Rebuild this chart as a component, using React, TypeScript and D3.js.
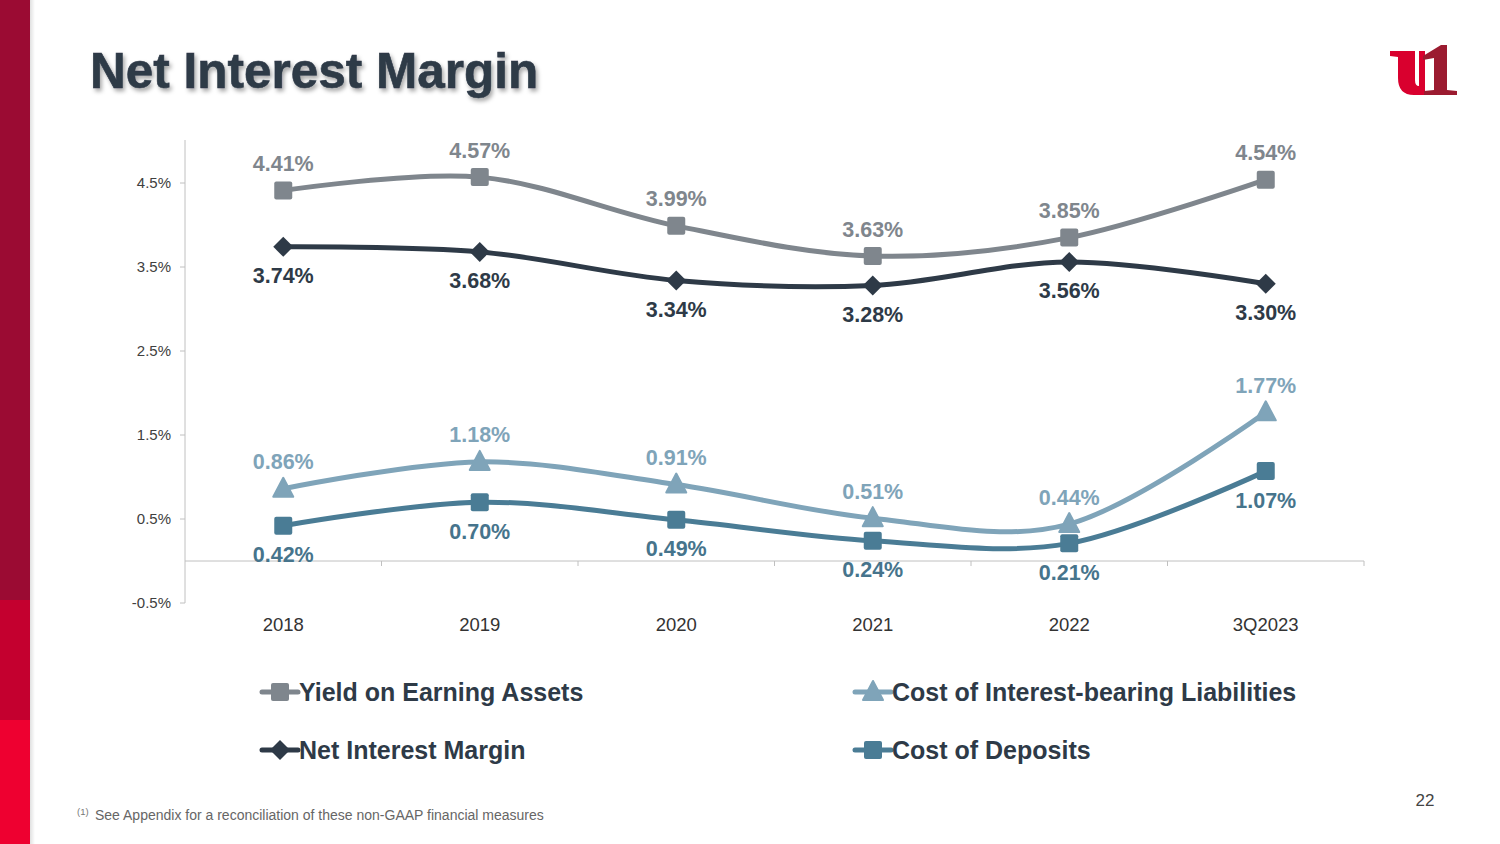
import React from "react";
import * as d3 from "d3";

const categories = ["2018", "2019", "2020", "2021", "2022", "3Q2023"];
const yieldOnAssets = [4.41, 4.57, 3.99, 3.63, 3.85, 4.54];
const netInterestMargin = [3.74, 3.68, 3.34, 3.28, 3.56, 3.3];
const costOfLiabilities = [0.86, 1.18, 0.91, 0.51, 0.44, 1.77];
const costOfDeposits = [0.42, 0.7, 0.49, 0.24, 0.21, 1.07];
const yTicks = [-0.5, 0.5, 1.5, 2.5, 3.5, 4.5];

const W = 1500;
const H = 844;
const FONT = "'Liberation Sans', Arial, sans-serif";
const DARK = "#2e3a47";

type Marker = "square" | "diamond" | "triangle";

const series = [
  { name: "Yield on Earning Assets", values: yieldOnAssets, color: "#7f868d", labelColor: "#7f868d", marker: "square" as Marker, above: true },
  { name: "Net Interest Margin", values: netInterestMargin, color: "#2e3a47", labelColor: "#2e3a47", marker: "diamond" as Marker, above: false },
  { name: "Cost of Interest-bearing Liabilities", values: costOfLiabilities, color: "#7fa4b9", labelColor: "#7fa4b9", marker: "triangle" as Marker, above: true },
  { name: "Cost of Deposits", values: costOfDeposits, color: "#4a7c95", labelColor: "#46748c", marker: "square" as Marker, above: false },
];

// legend order as laid out in the slide
const legendOrder = [
  { idx: 0, col: 0, row: 0 },
  { idx: 2, col: 1, row: 0 },
  { idx: 1, col: 0, row: 1 },
  { idx: 3, col: 1, row: 1 },
];

function markerShape(kind: Marker, cx: number, cy: number, color: string, key: string) {
  if (kind === "square") {
    return <rect key={key} x={cx - 9} y={cy - 9} width={18} height={18} rx={2} fill={color} />;
  }
  if (kind === "diamond") {
    const r = 10;
    return <path key={key} d={`M${cx},${cy - r}L${cx + r},${cy}L${cx},${cy + r}L${cx - r},${cy}Z`} fill={color} />;
  }
  const s = 10;
  return (
    <path
      key={key}
      d={`M${cx},${cy - s - 1}L${cx + s},${cy + s - 2}L${cx - s},${cy + s - 2}Z`}
      fill={color}
      stroke={color}
      strokeWidth={2}
      strokeLinejoin="round"
    />
  );
}

export default function App() {
  const x = d3.scaleBand<string>().domain(categories).range([185, 1364]);
  const y = d3.scaleLinear().domain([-0.5, 4.5]).range([603, 183]);
  const cx = (c: string) => (x(c) ?? 0) + x.bandwidth() / 2;

  const line = d3
    .line<number>()
    .x((_, i) => cx(categories[i]))
    .y((d) => y(d))
    .curve(d3.curveCatmullRom.alpha(0));

  const boundaries = categories.map((c) => (x(c) ?? 0) + x.bandwidth());

  return (
    <svg width={W} height={H} style={{ position: "absolute", left: 0, top: 0, background: "#fff" }} fontFamily={FONT}>
      <defs>
        <filter id="shadow" x="-10%" y="-30%" width="120%" height="160%">
          <feDropShadow dx="2" dy="3" stdDeviation="2" floodColor="#000" floodOpacity="0.35" />
        </filter>
        <linearGradient id="stripeShade" x1="0" x2="1" y1="0" y2="0">
          <stop offset="0" stopColor="#000" stopOpacity="0.12" />
          <stop offset="1" stopColor="#000" stopOpacity="0" />
        </linearGradient>
      </defs>

      {/* left stripe */}
      <rect x={0} y={0} width={30} height={600} fill="#9b0b33" />
      <rect x={0} y={600} width={30} height={120} fill="#c4002f" />
      <rect x={0} y={720} width={30} height={124} fill="#ee0030" />
      <rect x={30} y={0} width={5} height={H} fill="url(#stripeShade)" />

      {/* title */}
      <text x={90} y={88} fontSize={49.5} fontWeight="bold" fill={DARK} filter="url(#shadow)" stroke={DARK} strokeWidth={0.6}>
        Net Interest Margin
      </text>

      {/* logo */}
      <g>
        <path
          d="M1390,51 L1415,51 L1415,80 Q1415,86 1419,86 L1419,51 L1425,51 L1425,95 L1414,95 Q1398,95 1398,78 L1398,57 L1390,56 Z"
          fill="#d9002e"
        />
        <path
          d="M1423,56 L1441,45 L1447,45 L1447,90 L1457,91 L1457,95 L1424,95 L1424,91 L1434,90 L1434,58 L1423,60 Z"
          fill="#9b1b30"
        />
      </g>

      {/* axes */}
      <line x1={185} x2={185} y1={140} y2={603} stroke="#c0c0c0" strokeWidth={1} />
      {yTicks.map((t) => (
        <g key={t}>
          <line x1={180} x2={185} y1={y(t)} y2={y(t)} stroke="#c0c0c0" />
          <text x={171} y={y(t)} dy="0.35em" textAnchor="end" fontSize={15} fill="#404040">
            {`${t}%`}
          </text>
        </g>
      ))}
      <line x1={185} x2={1364} y1={y(0)} y2={y(0)} stroke="#c0c0c0" />
      {boundaries.map((b) => (
        <line key={b} x1={b} x2={b} y1={y(0)} y2={y(0) + 5} stroke="#c0c0c0" />
      ))}
      {categories.map((c) => (
        <text key={c} x={cx(c)} y={631} textAnchor="middle" fontSize={18.5} fill="#333">
          {c}
        </text>
      ))}

      {/* series */}
      {series.map((s) => (
        <g key={s.name}>
          <path d={line(s.values) ?? ""} fill="none" stroke={s.color} strokeWidth={5} strokeLinecap="round" />
          {s.values.map((v, i) => markerShape(s.marker, cx(categories[i]), y(v), s.color, `${s.name}-${i}`))}
          {s.values.map((v, i) => (
            <text
              key={`l-${i}`}
              x={cx(categories[i])}
              y={y(v) + (s.above ? -27 : 29)}
              dy="0.35em"
              textAnchor="middle"
              fontSize={21.5}
              fontWeight="bold"
              fill={s.labelColor}
            >
              {`${v.toFixed(2)}%`}
            </text>
          ))}
        </g>
      ))}

      {/* legend */}
      {legendOrder.map(({ idx, col, row }) => {
        const s = series[idx];
        const lx = col === 0 ? 262 : 855;
        const ly = row === 0 ? 692 : 750;
        return (
          <g key={s.name}>
            <line x1={lx} x2={lx + 36} y1={ly} y2={ly} stroke={s.color} strokeWidth={5} strokeLinecap="round" />
            {markerShape(s.marker, lx + 18, ly, s.color, `lg-${idx}`)}
            <text x={lx + 37} y={ly} dy="0.35em" fontSize={25} fontWeight="bold" fill={DARK}>
              {s.name}
            </text>
          </g>
        );
      })}

      {/* footnote */}
      <text x={77} y={815} fontSize={9.5} fill="#777">(1)</text>
      <text x={95} y={820} fontSize={14} fill="#666">
        See Appendix for a reconciliation of these non-GAAP financial measures
      </text>

      {/* page number */}
      <text x={1425} y={806} textAnchor="middle" fontSize={17} fill="#444">
        22
      </text>
    </svg>
  );
}
